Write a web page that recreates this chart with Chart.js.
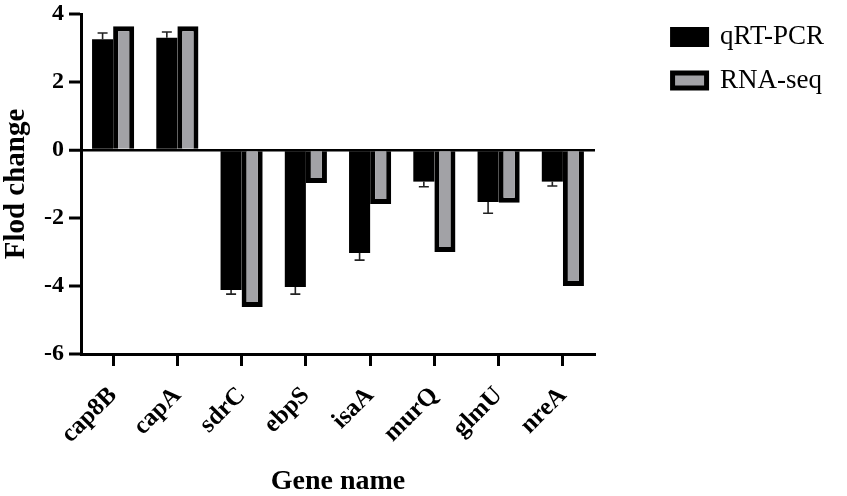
<!DOCTYPE html>
<html>
<head>
<meta charset="utf-8">
<script src="https://cdn.jsdelivr.net/npm/chart.js@4.4.1/dist/chart.umd.min.js"></script>
<style>
  html, body { margin: 0; padding: 0; background: #ffffff; }
  #wrap { width: 847px; height: 496px; }
</style>
</head>
<body>
<div id="wrap"><canvas id="c" width="847" height="496"></canvas></div>
<script>
const genes = ["cap8B", "capA", "sdrC", "ebpS", "isaA", "murQ", "glmU", "nreA"];
const qrtPcr = [3.26, 3.30, -4.12, -4.03, -3.03, -0.93, -1.53, -0.93];
const qrtPcrErr = [0.18, 0.17, 0.12, 0.21, 0.21, 0.15, 0.33, 0.13];
const rnaSeq = [3.64, 3.64, -4.62, -0.97, -1.59, -3.00, -1.55, -4.00];
const yTicks = [4, 2, 0, -2, -4, -6];

Chart.defaults.font.family = "'Liberation Serif', 'DejaVu Serif', serif";
Chart.defaults.color = "#000";

const PAD_RIGHT = 13;
const PLOT_RIGHT = 595;

const errorBars = {
  id: 'errorBars',
  afterDatasetsDraw(chart) {
    const meta = chart.getDatasetMeta(0);
    const y = chart.scales.y;
    const ctx = chart.ctx;
    ctx.save();
    ctx.strokeStyle = '#222';
    ctx.lineWidth = 1.6;
    meta.data.forEach((bar, i) => {
      const v = qrtPcr[i];
      const e = qrtPcrErr[i];
      const end = v >= 0 ? v + e : v - e;
      const y0 = y.getPixelForValue(v);
      const y1 = y.getPixelForValue(end);
      ctx.beginPath();
      ctx.moveTo(bar.x, y0);
      ctx.lineTo(bar.x, y1);
      ctx.moveTo(bar.x - 5, y1);
      ctx.lineTo(bar.x + 5, y1);
      ctx.stroke();
    });
    ctx.restore();
  }
};

new Chart(document.getElementById('c'), {
  type: 'bar',
  data: {
    labels: genes,
    datasets: [
      {
        label: 'qRT-PCR',
        data: qrtPcr,
        backgroundColor: '#000000',
        borderColor: '#000000',
        borderWidth: 0
      },
      {
        label: 'RNA-seq',
        data: rnaSeq,
        backgroundColor: '#a2a2a6',
        borderColor: '#000000',
        borderWidth: 5,
        borderSkipped: 'start'
      }
    ]
  },
  options: {
    responsive: false,
    animation: false,
    devicePixelRatio: 1,
    layout: { padding: { top: 7, right: PAD_RIGHT, bottom: 0, left: 0 } },
    datasets: { bar: { categoryPercentage: 0.656, barPercentage: 1.0 } },
    plugins: {
      legend: {
        position: 'right',
        align: 'start',
        maxWidth: 300,
        labels: {
          boxWidth: 34,
          boxHeight: 15,
          padding: 16.5,
          color: '#000',
          font: { size: 27, family: "'Liberation Serif', serif" },
          generateLabels(chart) {
            return Chart.defaults.plugins.legend.labels.generateLabels(chart)
              .map(l => Object.assign(l, { lineWidth: 5, strokeStyle: '#000' }));
          }
        }
      },
      tooltip: { enabled: false }
    },
    scales: {
      x: {
        offset: true,
        grid: {
          display: true,
          drawOnChartArea: false,
          drawTicks: true,
          tickLength: 12,
          tickWidth: 3,
          tickColor: '#000',
          offset: false
        },
        border: { display: true, color: '#000', width: 3 },
        ticks: {
          maxRotation: 45,
          minRotation: 45,
          padding: 15,
          color: '#000',
          font: { size: 25, weight: 'bold' }
        },
        title: {
          display: true,
          text: 'Gene name',
          color: '#000',
          font: { size: 28, weight: 'bold', lineHeight: 1 },
          padding: { top: 0, bottom: 0 }
        },
        afterFit(s) { s.height = 142; }
      },
      y: {
        min: -6,
        max: 4,
        afterBuildTicks(s) { s.ticks = yTicks.map(v => ({ value: v })); },
        grid: {
          drawOnChartArea: true,
          drawTicks: true,
          tickLength: 12,
          tickWidth: 3,
          tickColor: '#000',
          color: (c) => (c.tick && c.tick.value === 0 ? '#000' : 'rgba(0,0,0,0)'),
          lineWidth: (c) => (c.tick && c.tick.value === 0 ? 2.5 : 0)
        },
        border: { display: true, color: '#000', width: 3 },
        ticks: {
          padding: 5,
          color: '#000',
          font: { size: 24, weight: 'bold', lineHeight: 0.75 }
        },
        title: {
          display: true,
          text: 'Flod change',
          color: '#000',
          font: { size: 29, weight: 'bold', lineHeight: 1 },
          padding: { top: 2, bottom: 0 }
        },
        afterFit(s) { s.width = 81; }
      },
      y2: {
        position: 'right',
        display: true,
        grid: { display: false, drawTicks: false },
        border: { display: false },
        ticks: { display: false },
        afterFit(s) {
          const lw = s.chart.legend ? s.chart.legend.width : 180;
          s.width = Math.max(0, 847 - PAD_RIGHT - lw - PLOT_RIGHT);
        }
      }
    }
  },
  plugins: [errorBars]
});
</script>
</body>
</html>
